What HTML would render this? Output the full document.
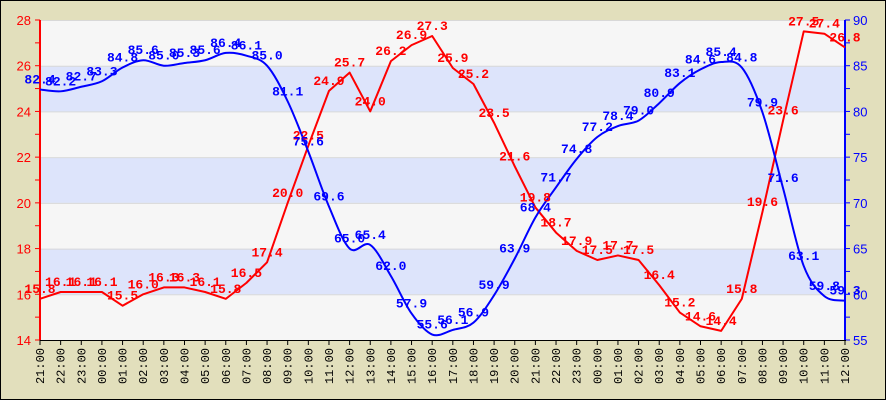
<!DOCTYPE html>
<html><head><meta charset="utf-8"><style>
body{margin:0;background:#fff}
svg{display:block}
text{font-family:"Liberation Mono",monospace}
</style></head><body>
<svg id="c" width="886" height="400" xmlns="http://www.w3.org/2000/svg"></svg>
<script>
var T=[15.8,16.1,16.1,16.1,15.5,16.0,16.3,16.3,16.1,15.8,16.5,17.4,20.0,22.5,24.9,25.7,24.0,26.2,26.9,27.3,25.9,25.2,23.5,21.6,19.8,18.7,17.9,17.5,17.7,17.5,16.4,15.2,14.6,14.4,15.8,19.6,23.6,27.5,27.4,26.8];
var H=[82.4,82.2,82.7,83.3,84.8,85.6,85.0,85.3,85.6,86.4,86.1,85.0,81.1,75.6,69.6,65.0,65.4,62.0,57.9,55.6,56.1,56.9,59.9,63.9,68.4,71.7,74.8,77.2,78.4,79.0,80.9,83.1,84.6,85.4,84.8,79.9,71.6,63.1,59.8,59.3];
var L=40,R=845,TOP=20,B=340,dx=(R-L)/39;
function X(i){return L+i*dx}
function YT(v){return B-(v-14)*320/14}
function YH(v){return B-(v-55)*320/35}
var s='<rect x="0.5" y="0.5" width="885" height="399" fill="#e2dfbc" stroke="#000"/>';
for(var v=14;v<28;v+=2){var y1=YT(v+2),y0=YT(v);var blue=((v/2)%2==0);
s+='<rect x="'+L+'" y="'+y1+'" width="'+(R-L)+'" height="'+(y0-y1)+'" fill="'+(blue?'#dde4fb':'#f6f6f6')+'"/>';
s+='<line x1="'+L+'" x2="'+R+'" y1="'+(y1+0.5)+'" y2="'+(y1+0.5)+'" stroke="#d8d8d8"/>';}
s+='<line x1="40" x2="40" y1="20" y2="340" stroke="#f00" stroke-width="2"/>';
for(var v=14;v<=28;v++){var y=YT(v);s+='<line x1="35" x2="40" y1="'+y+'" y2="'+y+'" stroke="#f00"/>';
if(v%2==0)s+='<text x="31" y="'+(y+5)+'" fill="#f00" font-size="13" text-anchor="end" style="font-family:Liberation Sans,sans-serif">'+v+'</text>';}
s+='<line x1="845" x2="845" y1="20" y2="340" stroke="#00f" stroke-width="2"/>';
for(var k=0;k<=14;k++){var y=B-k*320/14;s+='<line x1="845" x2="850" y1="'+y+'" y2="'+y+'" stroke="#00f"/>';
if(k%2==0)s+='<text x="853" y="'+(y+5)+'" fill="#00f" font-size="13" style="font-family:Liberation Sans,sans-serif">'+(55+k/2*5)+'</text>';}
s+='<line x1="40" x2="846" y1="340.5" y2="340.5" stroke="#000"/>';
for(var i=0;i<40;i++){var x=X(i);s+='<line x1="'+x+'" x2="'+x+'" y1="340" y2="345" stroke="#000"/>';
var h=(21+i)%24;var lab=(h<10?'0':'')+h+':00';
s+='<text transform="translate('+(x+4)+',348) rotate(-90)" font-size="12" text-anchor="end" fill="#000">'+lab+'</text>';}
function path(a,f,smooth){var p=[];for(var i=0;i<a.length;i++)p.push([X(i),f(a[i])]);
var d='M'+p[0][0]+','+p[0][1];
for(var i=0;i<p.length-1;i++){if(!smooth){d+=' L'+p[i+1][0]+','+p[i+1][1];continue;}
var p0=p[Math.max(0,i-1)],p1=p[i],p2=p[i+1],p3=p[Math.min(p.length-1,i+2)];
d+=' C'+(p1[0]+(p2[0]-p0[0])/6)+','+(p1[1]+(p2[1]-p0[1])/6)+' '+(p2[0]-(p3[0]-p1[0])/6)+','+(p2[1]-(p3[1]-p1[1])/6)+' '+p2[0]+','+p2[1];}
return d;}
s+='<path d="'+path(T,YT,false)+'" fill="none" stroke="#f00" stroke-width="2" stroke-linejoin="round"/>';
s+='<path d="'+path(H,YH,true)+'" fill="none" stroke="#00f" stroke-width="2"/>';
for(var i=0;i<40;i++){s+='<text x="'+X(i)+'" y="'+(YT(T[i])-6)+'" fill="#f00" font-size="13" font-weight="bold" text-anchor="middle">'+T[i].toFixed(1)+'</text>';
s+='<text x="'+X(i)+'" y="'+(YH(H[i])-6)+'" fill="#00f" font-size="13" font-weight="bold" text-anchor="middle">'+H[i].toFixed(1)+'</text>';}
document.getElementById('c').innerHTML=s;
</script>
</body></html>
